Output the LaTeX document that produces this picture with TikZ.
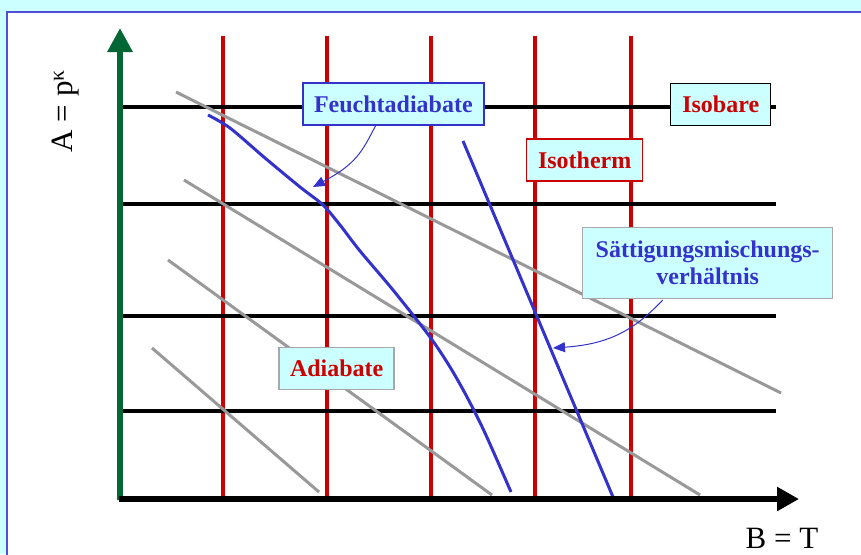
\documentclass[tikz,border=0pt]{standalone}
\usepackage{fontspec}
\setmainfont{Liberation Serif}
\usetikzlibrary{arrows.meta,calc}
\definecolor{bgcyan}{HTML}{CCFFFF}
\definecolor{framblue}{HTML}{4F4FD9}
\definecolor{axgreen}{HTML}{006633}
\definecolor{isored}{HTML}{CC0000}
\definecolor{curveblue}{HTML}{3333CC}
\definecolor{adgray}{HTML}{999999}
\definecolor{boxgray}{HTML}{A8A8A8}
\tikzset{
  isobar/.style={line width=4pt, black},
  isotherm/.style={line width=4pt, isored},
  adiab/.style={line width=3pt, adgray},
  bluecurve/.style={line width=3pt, curveblue},
  labelbox/.style={draw, line width=1.5pt, fill=bgcyan, inner sep=0pt,
    font=\fontsize{24}{27}\selectfont\bfseries, align=center},
  pointer/.style={curveblue, line width=1pt, -{Triangle[length=12pt,width=10pt]}},
  axislabel/.style={font=\fontsize{31}{34}\selectfont, inner sep=0pt}
}
\begin{document}
\begin{tikzpicture}[x=1pt,y=-1pt]
\useasboundingbox (0,0) rectangle (861,554);
\clip (0,0) rectangle (861,554);
\fill[bgcyan] (0,0) rectangle (861,554);
\draw[framblue, line width=2pt, fill=white] (7,12) rectangle (880,580);

% isotherms
\foreach \xx in {222.5,326.5,430.5,534.5,630.5}
  \draw[isotherm] (\xx,36) -- (\xx,498);
% isobars
\foreach \yy in {107,204,316,411}
  \draw[isobar] (119,\yy) -- (776,\yy);

% adiabats
\draw[adiab] (176,92) -- (781,393);
\draw[adiab] (184,180) -- (700,495);
\draw[adiab] (168,260) -- (492,495);
\draw[adiab] (152,348) -- (319,492);

% Feuchtadiabate curve
\draw[bluecurve] plot[smooth, tension=0.5] coordinates {(208,115) (230,128) (265,158) (300,187) (323,205) (340,225) (360,251) (393,290) (430,337) (450,367) (467,397) (485,433) (511,492)};
% Saettigungsmischungsverhaeltnis line
\draw[bluecurve] (463,141) -- (613,497);

% axes
\coordinate (origin) at (119,499);
\coordinate (ytip) at (120,28);
\coordinate (xtip) at (799,499);
\draw[axgreen, line width=6.5pt, -{Triangle[length=24pt,width=24pt]}] (120,500) -- (ytip);
\draw[black, line width=6.5pt, -{Triangle[length=22pt,width=23pt]}] (origin) -- (xtip);

% labels
\node[labelbox, draw=curveblue, text=curveblue, minimum width=181pt, minimum height=42pt] (feucht) at (393.4,104.2) {Feuchtadiabate};
\node[labelbox, draw=black, text=isored, minimum width=100pt, minimum height=42pt] (isobare) at (720.7,104.3) {Isobare};
\node[labelbox, draw=isored, text=isored, minimum width=116pt, minimum height=42pt] (isotherm) at (584.7,160.2) {Isotherm};
\node[labelbox, draw=boxgray, text=curveblue, minimum width=250pt, minimum height=71pt] (satt) at (707.7,262.8) {Sättigungsmischungs-\\verhältnis};
\node[labelbox, draw=boxgray, text=isored, minimum width=115pt, minimum height=42pt] (adiabate) at (336.7,368.5) {Adiabate};

% pointers
\coordinate (ftip) at (313,187);
\coordinate (stip) at (553,348);
\draw[pointer] ($(feucht.south)+(-18,0)$) .. controls (362,152) and (356,164) .. (ftip);
\draw[pointer] ($(satt.south)+(-45,1)$) .. controls (636,328) and (612,344) .. (stip);

% axis labels
\node[axislabel, rotate=90] (alabel) at (66,111) {A = p\textsuperscript{κ}};
\node[axislabel] (blabel) at (782,538) {B = T};
\end{tikzpicture}
\end{document}
